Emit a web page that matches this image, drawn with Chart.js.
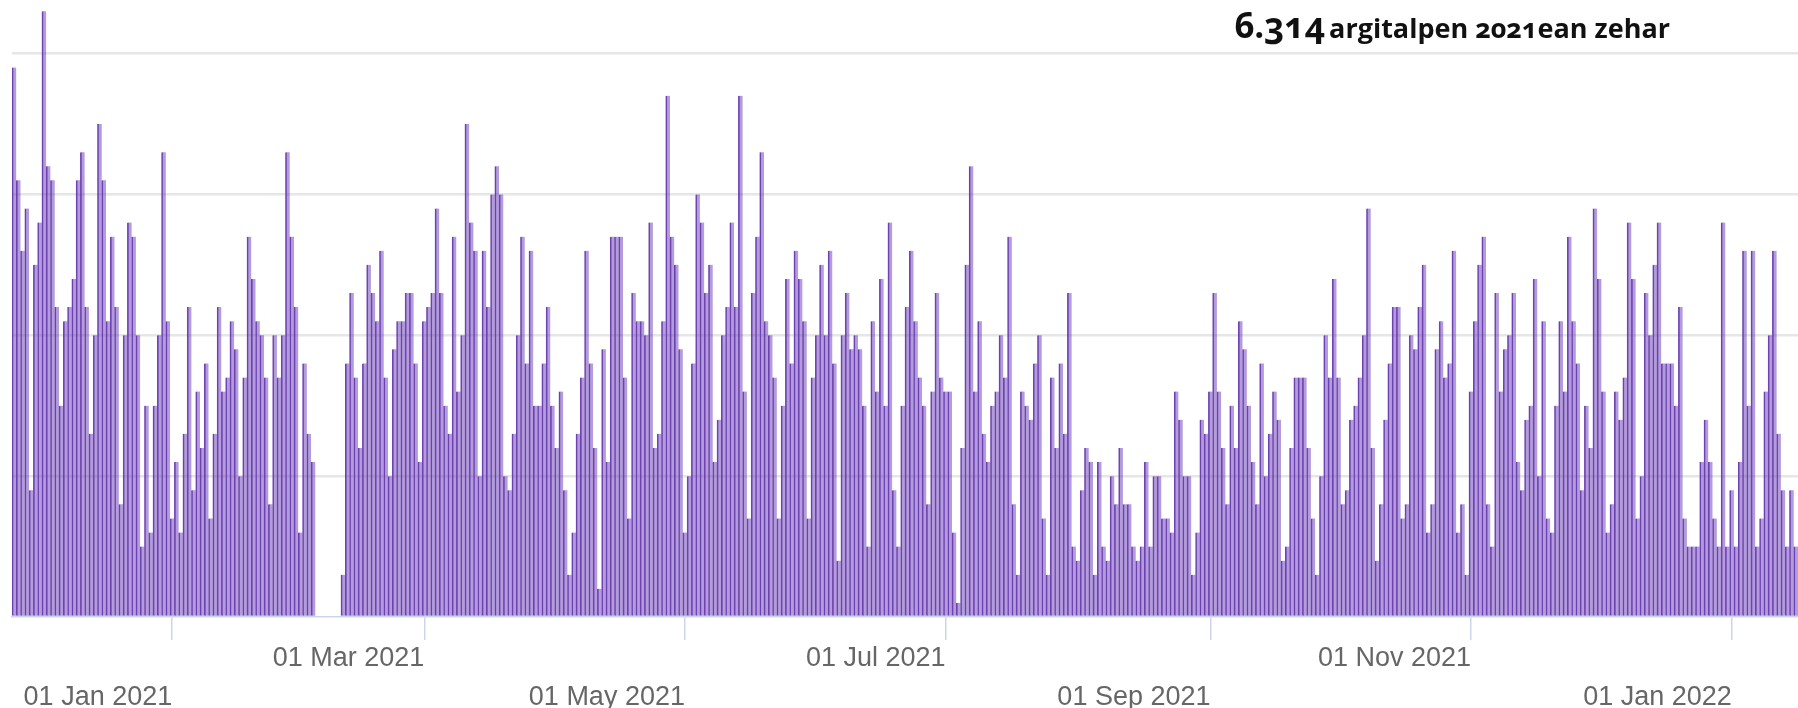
<!DOCTYPE html>
<html>
<head>
<meta charset="utf-8">
<script src="https://cdn.jsdelivr.net/npm/chart.js@4.4.1/dist/chart.umd.min.js"></script>
<style>
  html, body { margin: 0; padding: 0; background: #fff; }
  #wrap { position: relative; width: 1798px; height: 708px; }
  #title {
    position: absolute; right: 128px; top: 1px;
    font-family: "Open Sans", sans-serif; font-weight: 700; color: #111;
    font-variant-numeric: oldstyle-nums; white-space: nowrap;
  }
  #title .num { font-size: 35px; }
  #title .txt { font-size: 27px; }
</style>
</head>
<body>
<div id="wrap">
  <canvas id="posts" width="1798" height="708"></canvas>
  <div id="title"><span class="num">6.314</span> <span class="txt">argitalpen 2021ean zehar</span></div>
</div>
<script>
// lehen barra: 2020-11-25 (2021-01-01etik -37 egun)
const firstDay = -37;

// eguneko argitalpenak, 2020-11-25 -> 2022-01-16
const posts = [
  39, 31, 26, 29, 9, 25, 28, 43, 32, 31, 22, 15, 21, 22, 24, 31, 33, 22, 13, 20,
  35, 31, 21, 27, 22, 8, 20, 28, 27, 20, 5, 15, 6, 15, 20, 33, 21, 7, 11, 6,
  13, 22, 9, 16, 12, 18, 7, 13, 22, 16, 17, 21, 19, 10, 17, 27, 24, 21, 20, 17,
  8, 20, 17, 20, 33, 27, 22, 6, 18, 13, 11, 0, 0, 0, 0, 0, 0, 3, 18, 23,
  17, 12, 18, 25, 23, 21, 26, 17, 10, 19, 21, 21, 23, 23, 18, 11, 21, 22, 23, 29,
  23, 15, 13, 27, 16, 20, 35, 28, 26, 10, 26, 22, 30, 32, 30, 10, 9, 13, 20, 27,
  18, 26, 15, 15, 18, 22, 15, 12, 16, 9, 3, 6, 13, 17, 26, 18, 12, 2, 19, 11,
  27, 27, 27, 17, 7, 23, 21, 21, 20, 28, 12, 13, 21, 37, 27, 25, 19, 6, 10, 18,
  30, 28, 23, 25, 11, 14, 20, 22, 28, 22, 37, 16, 7, 23, 27, 33, 21, 20, 17, 7,
  15, 24, 18, 26, 24, 21, 7, 17, 20, 25, 20, 26, 18, 4, 20, 23, 19, 20, 19, 15,
  5, 21, 16, 24, 15, 28, 9, 5, 15, 22, 26, 21, 17, 15, 8, 16, 23, 17, 16, 16,
  6, 1, 12, 25, 32, 16, 21, 13, 11, 15, 16, 20, 17, 27, 8, 3, 16, 15, 14, 18,
  20, 7, 3, 17, 12, 18, 13, 23, 5, 4, 9, 12, 11, 3, 11, 5, 4, 10, 8, 12,
  8, 8, 5, 4, 5, 11, 5, 10, 10, 7, 7, 6, 16, 14, 10, 10, 3, 6, 14, 13,
  16, 23, 16, 12, 8, 15, 12, 21, 19, 15, 11, 8, 18, 10, 13, 16, 14, 4, 5, 12,
  17, 17, 17, 12, 7, 3, 10, 20, 17, 24, 17, 8, 9, 14, 15, 17, 20, 29, 12, 4,
  8, 14, 18, 22, 22, 7, 8, 20, 19, 22, 25, 6, 8, 19, 21, 17, 18, 26, 6, 8,
  3, 16, 21, 25, 27, 8, 5, 23, 16, 19, 20, 23, 11, 9, 14, 15, 24, 10, 21, 7,
  6, 15, 21, 16, 27, 21, 18, 9, 15, 12, 29, 24, 16, 6, 8, 16, 14, 17, 28, 24,
  7, 10, 23, 20, 25, 28, 18, 18, 18, 15, 22, 7, 5, 5, 5, 11, 14, 11, 7, 5,
  28, 5, 9, 5, 11, 26, 15, 26, 5, 7, 16, 20, 26, 13, 9, 5, 9, 5
];
const days = posts.map((v, i) => firstDay + i);

// ardatz horizontaleko marrak (egunak 2021-01-01etik)
const tickDays = [0, 59, 120, 181, 243, 304, 365];
const tickLabels = ['01 Jan 2021', '01 Mar 2021', '01 May 2021', '01 Jul 2021',
                    '01 Sep 2021', '01 Nov 2021', '01 Jan 2022'];

const config = {
  type: 'bar',
  data: {
    datasets: [{
      label: 'Argitalpenak',
      data: days.map((d, i) => ({ x: d, y: posts[i] })),
      backgroundColor: 'rgba(103, 58, 183, 0.5)',
      borderColor: 'rgba(96, 48, 168, 0.9)',
      borderWidth: { left: 1, right: 0, top: 0, bottom: 0 },
      categoryPercentage: 1,
      barPercentage: 1
    }]
  },
  options: {
    responsive: false,
    animation: false,
    layout: { padding: { left: 12, right: 0, top: 0, bottom: 0 } },
    plugins: {
      legend: { display: false },
      tooltip: { enabled: false }
    },
    scales: {
      x: {
        type: 'linear',
        offset: false,
        min: firstDay - 0.5,
        max: days[days.length - 1] + 0.5,
        afterBuildTicks: scale => {
          scale.ticks = tickDays.map(v => ({ value: v }));
        },
        afterFit: scale => { scale.height = 91; },
        grid: {
          offset: false,
          drawOnChartArea: false,
          tickLength: 23,
          color: '#ccd6eb',
          lineWidth: 1.5
        },
        border: { display: true, color: '#ccd6eb', width: 1.5 },
        ticks: {
          autoSkip: false,
          maxRotation: 0,
          align: 'end',
          padding: -1.2,
          color: '#666',
          font: { family: '"Liberation Sans", Arial, sans-serif', size: 27, lineHeight: 1.44 },
          callback: function(value) {
            const i = tickDays.indexOf(value);
            if (i < 0) return null;
            // goiko eta beheko errenkadak txandakatu
            return i % 2 ? [tickLabels[i]] : ['', tickLabels[i]];
          }
        }
      },
      y: {
        min: 0,
        max: 43.8,
        ticks: { display: false, stepSize: 10, includeBounds: false },
        grid: {
          drawTicks: false,
          lineWidth: 2.5,
          color: ctx => ctx.tick && ctx.tick.value === 0 ? 'rgba(0,0,0,0)' : '#e6e6e6'
        },
        border: { display: false }
      }
    }
  }
};

const postsChart = new Chart(document.getElementById('posts'), config);
</script>
</body>
</html>
